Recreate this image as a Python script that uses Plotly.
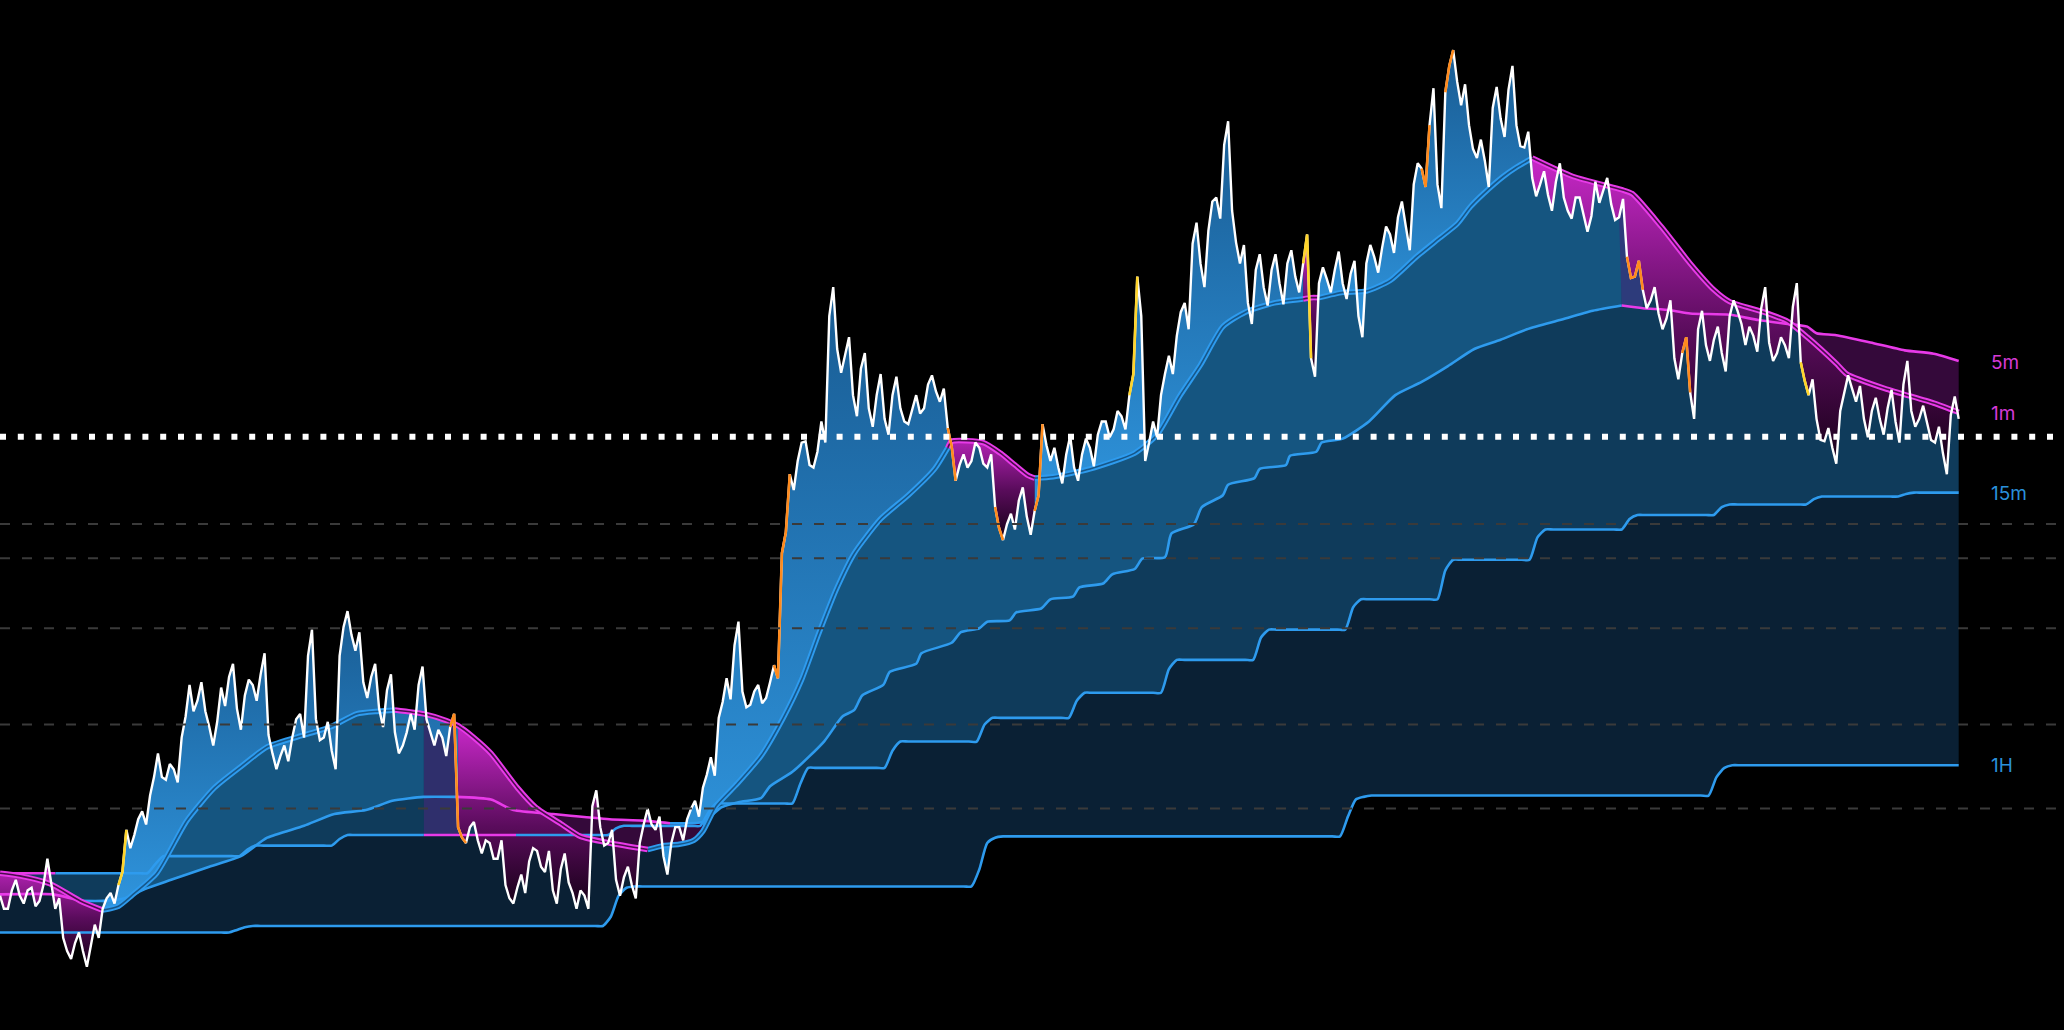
import plotly.graph_objects as go

# ---------------------------------------------------------------------------
# data (time in chart units, price level in chart units)
# ---------------------------------------------------------------------------
price = [
    120, 110, 132, 114, 126, 116, 148, 110, 88, 72, 92, 66, 98, 110, 122, 128,
    170, 166, 184, 196, 228, 208, 216, 240, 280, 268, 260, 234, 278, 286, 262, 272,
    280, 288, 242, 216, 234, 240, 258, 302, 254, 240, 230, 302, 336, 306, 282, 286,
    262, 276, 244, 234, 258, 280, 254, 234, 240, 248, 172, 160, 176, 152, 160, 148,
    128, 114, 136, 146, 154, 138, 124, 140, 130, 110, 120, 188, 172, 160, 132, 134,
    128, 160, 186, 170, 150, 160, 172, 178, 192, 202, 225, 255, 285, 310, 275, 265,
    280, 270, 295, 380, 440, 450, 465, 445, 480, 560, 535, 530, 500, 520, 490, 500,
    482, 500, 490, 478, 500, 490, 515, 495, 475, 435, 455, 450, 460, 445, 415, 390,
    410, 420, 408, 412, 478, 450, 445, 455, 445, 455, 460, 470, 480, 474, 484, 500,
    590, 450, 480, 500, 530, 545, 570, 615, 600, 625, 650, 690, 640, 600, 570, 595,
    582, 595, 585, 600, 590, 600, 528, 585, 588, 595, 585, 592, 560, 600, 605, 612,
    622, 635, 628, 660, 672, 705, 660, 730, 762, 720, 705, 680, 678, 718, 710, 732,
    705, 688, 665, 660, 652, 662, 650, 634, 650, 624, 662, 655, 645, 635, 605, 590,
    580, 572, 562, 558, 528, 532, 502, 550, 538, 542, 532, 560, 564, 538, 545, 566,
    540, 532, 538, 567, 525, 500, 482, 465, 460, 488, 515, 495, 482, 488, 482, 490,
    480, 508, 488, 482, 480, 464, 456, 485, 482,
]
# intra-sample swing of the price (offset of the half-step tick)
swing = [
    -10, 14, -12, 10, -14, 12, -20, 8, -10, 12, -14, 16, -10, 8, -8, 10,
    -14, 12, -10, 14, -18, 12, -10, 16, -20, 14, -12, 18, -14, 10, -16, 12,
    -12, 16, -14, 10, -12, 14, -18, 20, -16, 12, -14, 22, -18, 14, -12, 10,
    -14, 12, -16, 10, -12, 14, -10, 12, -14, 10, -8, 12, -14, 10, -12, 14,
    -10, 12, -14, 10, -12, 16, -10, 12, -8, 14, -10, 12, -14, 10, -12, 8,
    -10, 14, -12, 10, -14, 12, -10, 8, -12, 10, -14, 12, -16, 18, -12, 10,
    -14, 12, -10, 16, -12, 14, -18, 12, -16, 22, -18, 14, -16, 12, -14, 16,
    -12, 14, -10, 12, -14, 18, -12, 10, -14, 12, -10, 14, -12, 10, -16, 12,
    -12, 10, -14, 12, -16, 10, -12, 14, -10, 12, -14, 10, -12, 14, -10, 16,
    -30, 14, -12, 16, -14, 18, -20, 16, -18, 22, -16, 18, -24, 14, -16, 12,
    -14, 12, -16, 10, -12, 22, -14, 12, -10, 14, -12, 10, -16, 14, -12, 16,
    -14, 12, -18, 16, -14, 28, -18, 20, -24, 16, -18, 14, -20, 16, -14, 18,
    -16, 12, -14, 10, -12, 14, -10, 16, -14, 12, -16, 10, -12, 14, -16, 12,
    -14, 10, -12, 14, -16, 12, -20, 14, -12, 10, -14, 12, -10, 14, -12, 16,
    -14, 12, -10, 18, -14, 12, -16, 10, -12, 14, -10, 12, -14, 10, -12, 14,
    -16, 18, -12, 10, -14, 12, -16, 14, 0,
]
price_t = [6 * i for i in range(len(price))]

# trailing levels per timeframe
m1_t = [0, 15, 38, 61, 78, 90, 100, 119, 142, 163, 183, 203, 231, 251, 271, 288, 300,
        322, 339, 348, 360, 373, 393, 407, 427, 441, 463, 492, 504, 516, 527, 534, 544,
        560, 578, 595, 609, 622, 636, 649, 669, 690, 710, 720, 723, 747, 760, 771, 781,
        786, 800, 828, 862, 879, 896, 912, 929, 946, 968, 990, 996, 1002, 1020, 1038,
        1056, 1076, 1092, 1107, 1117, 1127, 1142, 1152, 1164, 1195, 1232, 1240, 1262,
        1284, 1302, 1314, 1340, 1358, 1373, 1395, 1403, 1432, 1469, 1488]
m1_v = [137, 135, 129, 116, 109, 112, 120, 137, 177, 202, 218, 233, 242, 248, 258, 260, 261,
        258, 253, 249, 240, 228, 202, 187, 174, 165, 160, 155, 158, 159, 162, 169, 188,
        205, 226, 255, 284, 319, 354, 380, 406, 424, 444, 460, 465, 464, 456, 447, 439,
        437, 438, 444, 456, 470, 499, 523, 552, 563, 570, 573, 574, 574, 578, 579,
        587, 605, 618, 630, 643, 653, 666, 673, 680, 666, 656, 653, 628,
        600, 580, 571, 563, 556, 544, 524, 516, 505, 494, 487]

m5_t = [0, 40, 62, 78, 95, 110, 130, 159, 183, 203, 231, 254, 278, 298, 322, 346, 373, 390,
        420, 463, 488, 509, 534, 548, 561, 578, 585, 602, 626, 640, 649, 655, 671, 676, 696,
        700, 723, 730, 744, 750, 767, 772, 791, 798, 815, 820, 838, 845, 862, 868, 885, 890,
        907, 913, 929, 933, 953, 957, 977, 980, 1000, 1004, 1020, 1040, 1060, 1080, 1100,
        1120, 1140, 1160, 1185, 1210, 1232, 1248, 1269, 1284, 1314, 1336, 1358, 1373, 1380,
        1395, 1421, 1447, 1469, 1488]
m5_v = [121, 121, 116, 116, 118, 125, 132, 142, 150, 164, 173, 182, 185, 192, 195, 195, 193, 185,
        182, 178, 177, 175, 176, 187, 191, 194, 203, 214, 237, 256, 261, 272, 280, 290, 296,
        304, 312, 320, 323, 328, 329, 335, 338, 345, 347, 354, 357, 364, 368, 376, 377, 395,
        402, 415, 424, 432, 437, 444, 447, 454, 457, 464, 467, 480, 500, 510, 522,
        535, 542, 550, 557, 564, 568, 566, 564.5, 562, 561, 557, 554, 552, 547,
        545.5, 540, 534, 531.5, 526]

m15_t = [0, 42, 106, 112, 118, 124, 130, 176, 182, 188, 194, 200, 246, 252, 258, 264, 270,
         322, 348, 392, 456, 462, 468, 474, 480, 526, 532, 538, 544, 550, 596, 602, 608, 614,
         620, 666, 672, 678, 684, 690, 736, 742, 748, 754, 760, 806, 812, 818, 824, 830,
         876, 882, 888, 894, 900, 946, 952, 958, 964, 970, 1016, 1022, 1028, 1034, 1040,
         1086, 1092, 1098, 1104, 1110, 1156, 1162, 1168, 1174, 1180, 1226, 1232, 1238, 1244,
         1250, 1296, 1302, 1308, 1314, 1320, 1366, 1372, 1378, 1384, 1390, 1436, 1442, 1448,
         1454, 1460, 1488]
m15_v = [137, 137, 137, 137, 144, 150, 150, 150, 150, 155, 158, 158, 158, 158, 163, 166, 166,
         166, 166, 166, 166, 166, 171, 173, 173, 173, 173, 183, 190, 190, 190, 190, 205, 217,
         217, 217, 217, 230, 237, 237, 237, 237, 250, 255, 255, 255, 255, 268, 274, 274,
         274, 274, 292, 299, 299, 299, 299, 316, 322, 322, 322, 322, 339, 345, 345,
         345, 345, 367, 375, 375, 375, 375, 392, 398, 398, 398, 398, 406, 409,
         409, 409, 409, 415, 417, 417, 417, 417, 421, 423, 423, 423, 423, 425,
         426, 426, 426]

h1_t = [0, 168, 174, 180, 186, 192, 198, 452, 458, 464, 470, 476, 482, 488, 732, 738, 744,
        750, 756, 762, 768, 1012, 1018, 1024, 1030, 1036, 1042, 1048, 1292, 1298, 1304,
        1310, 1316, 1322, 1328, 1488]
h1_v = [92, 92, 92, 94, 96, 97, 97, 97, 97, 104, 120, 126, 127, 127, 127, 127, 140,
        160, 164, 165, 165, 165, 165, 180, 193, 195, 196, 196, 196, 196, 210,
        217, 219, 219, 219, 219]

# spans where each level is bearish (drawn magenta)
m1_bear = [(0, 78), (300, 492), (720, 786), (990, 1002), (1164, 1488)]
m1_bull = [(78, 300), (492, 720), (786, 990), (1002, 1164)]
m5_bear = [(0, 62), (346, 509), (1232, 1488)]
m5_bull = [(62, 346), (509, 1232)]
m15_bear = [(0, 42), (322, 392)]
m15_bull = [(42, 322), (392, 1488)]

# spans where price sits below / above the 1m level
below_1m = [(0, 78), (348, 492), (720, 786), (990, 1002), (1164, 1488)]
above_1m = [(78, 348), (492, 720), (786, 990), (1002, 1164)]
m5_under_m1 = [(78, 322), (534, 1232)]
m5_over_m1 = [(407, 534), (1358, 1488)]

# highlighted price moves (sample index ranges)
orange_runs = [(57, 59), (98, 100), (120, 121), (126, 127), (131, 132),
               (180, 181), (183, 184), (206, 208), (213, 214)]
yellow_runs = [(15, 16), (143, 144), (165, 166), (228, 229)]

last_price_level = 468.4
grid_levels = [402.1, 376.1, 323.1, 250.0, 186.2]

labels = ["5m", "1m", "15m", "1H"]
label_levels = [525, 486, 425, 219]

BLUE = "#2e9bee"
MAGENTA = "#e83ae8"

# ---------------------------------------------------------------------------
# price path with the half-step ticks
path_t, path_v = [], []
for i, (x, y) in enumerate(zip(price_t, price)):
    path_t.append(x)
    path_v.append(y)
    if i < len(price) - 1:
        path_t.append(x + 3)
        path_v.append(y + swing[i])


def cut(ts, vs, a, b):
    xs, ys = [], []
    for x, y in zip(ts, vs):
        if a <= x <= b:
            xs.append(x)
            ys.append(y)
    return xs, ys


PRICE = (path_t, path_v, "linear")
M1 = (m1_t, m1_v, "spline")
M5 = (m5_t, m5_v, "spline")
M15 = (m15_t, m15_v, "spline")
H1 = (h1_t, h1_v, "spline")


def seg(series, a=None, b=None):
    ts, vs, shape = series
    if a is None:
        return ts, vs, shape
    xs, ys = cut(ts, vs, a, b)
    return xs, ys, shape


fig = go.Figure()


def band(lo, hi, color, grad=None):
    fig.add_trace(go.Scatter(
        x=lo[0], y=lo[1], mode="lines",
        line=dict(width=0, shape=lo[2], smoothing=0.6),
        hoverinfo="skip", showlegend=False,
    ))
    kw = dict(fill="tonexty", fillcolor=color)
    if grad is not None:
        kw["fillgradient"] = dict(type="vertical", colorscale=grad)
    fig.add_trace(go.Scatter(
        x=hi[0], y=hi[1], mode="lines",
        line=dict(width=0, shape=hi[2], smoothing=0.6),
        hoverinfo="skip", showlegend=False, **kw,
    ))


# --- fills -----------------------------------------------------------------
band(seg(H1), seg(M15), "#0a2034")
band(seg(M15), seg(PRICE), "#0f3b5b")
for a, b in m5_under_m1:
    band(seg(M5, a, b), seg(M1, a, b), "#155580")
band(seg(M15, 322, 348), seg(M1, 322, 348), "#2f2f6c")
band(seg(M5, 1230, 1248), seg(PRICE, 1230, 1248), "#2d3b7b")

blue_grad = [[0, "#2f95de"], [1, "#195c93"]]
for a, b in above_1m:
    band(seg(M1, a, b), seg(PRICE, a, b), "#2377b8", blue_grad)

mag_grad = [[0, "#140014"], [0.45, "#5a0c5c"], [1, "#c828c8"]]
for a, b in below_1m:
    band(seg(PRICE, a, b), seg(M1, a, b), "#8a168a", mag_grad)

for a, b in m5_over_m1:
    band(seg(M1, a, b), seg(M5, a, b), "#34093a")


# --- level lines -----------------------------------------------------------
def level_line(series, runs, color, width, core=None):
    for a, b in runs:
        xs, ys, shape = seg(series, a, b)
        fig.add_trace(go.Scatter(
            x=xs, y=ys, mode="lines",
            line=dict(color=color, width=width, shape=shape, smoothing=0.6),
            hoverinfo="skip", showlegend=False,
        ))
        if core:
            fig.add_trace(go.Scatter(
                x=xs, y=ys, mode="lines",
                line=dict(color=core, width=1.6, shape=shape, smoothing=0.6),
                hoverinfo="skip", showlegend=False,
            ))


level_line(H1, [(0, 1488)], BLUE, 2.6)
level_line(M15, m15_bull, BLUE, 2.6)
level_line(M15, m15_bear, MAGENTA, 2.6)
level_line(M5, m5_bull, BLUE, 2.6)
level_line(M5, m5_bear, MAGENTA, 2.6)
level_line(M1, m1_bull, BLUE, 5.5, core="#17578a")
level_line(M1, m1_bear, MAGENTA, 5.5, core="#4a0c4c")

# --- price -----------------------------------------------------------------
fig.add_trace(go.Scatter(
    x=path_t, y=path_v, mode="lines",
    line=dict(color="white", width=2.4),
    hoverinfo="skip", showlegend=False,
))


def runs_xy(runs):
    xs, ys = [], []
    for i0, i1 in runs:
        xs += path_t[2 * i0:2 * i1 + 1] + [None]
        ys += path_v[2 * i0:2 * i1 + 1] + [None]
    return xs, ys


for runs, col in [(orange_runs, "#ff8a1c"), (yellow_runs, "#ffd42a")]:
    xs, ys = runs_xy(runs)
    fig.add_trace(go.Scatter(
        x=xs, y=ys, mode="lines", line=dict(color=col, width=2.6),
        hoverinfo="skip", showlegend=False,
    ))

# --- reference levels ------------------------------------------------------
shapes = []
for lv in grid_levels:
    shapes.append(dict(type="line", xref="paper", x0=0, x1=1, yref="y", y0=lv, y1=lv,
                       line=dict(color="#3a3a3a", width=2, dash="10px,12px"), layer="above"))
shapes.append(dict(type="line", xref="paper", x0=0, x1=1, yref="y",
                   y0=last_price_level, y1=last_price_level,
                   line=dict(color="white", width=6, dash="6px,11.8px"), layer="above"))

annotations = []
for txt, lv in zip(labels, label_levels):
    annotations.append(dict(
        x=1511, y=lv, xref="x", yref="y", text=txt, showarrow=False,
        xanchor="left", yanchor="middle",
        font=dict(family="Inter, Roboto, sans-serif", size=19,
                  color="#d63ad6" if txt in ("5m", "1m") else "#2a90da"),
    ))

fig.update_layout(
    width=2064, height=1030,
    margin=dict(l=0, r=0, t=0, b=0),
    paper_bgcolor="black", plot_bgcolor="black",
    xaxis=dict(range=[0, 1568], visible=False, showgrid=False, zeroline=False),
    yaxis=dict(range=[18, 800], visible=False, showgrid=False, zeroline=False),
    showlegend=False, hovermode=False,
    shapes=shapes, annotations=annotations,
)

fig.write_html(
    "out.html",
    config={"displayModeBar": False, "staticPlot": True},
    post_script="document.body.style.margin='0';document.body.style.background='black';"
                "document.body.style.overflow='hidden';",
)
